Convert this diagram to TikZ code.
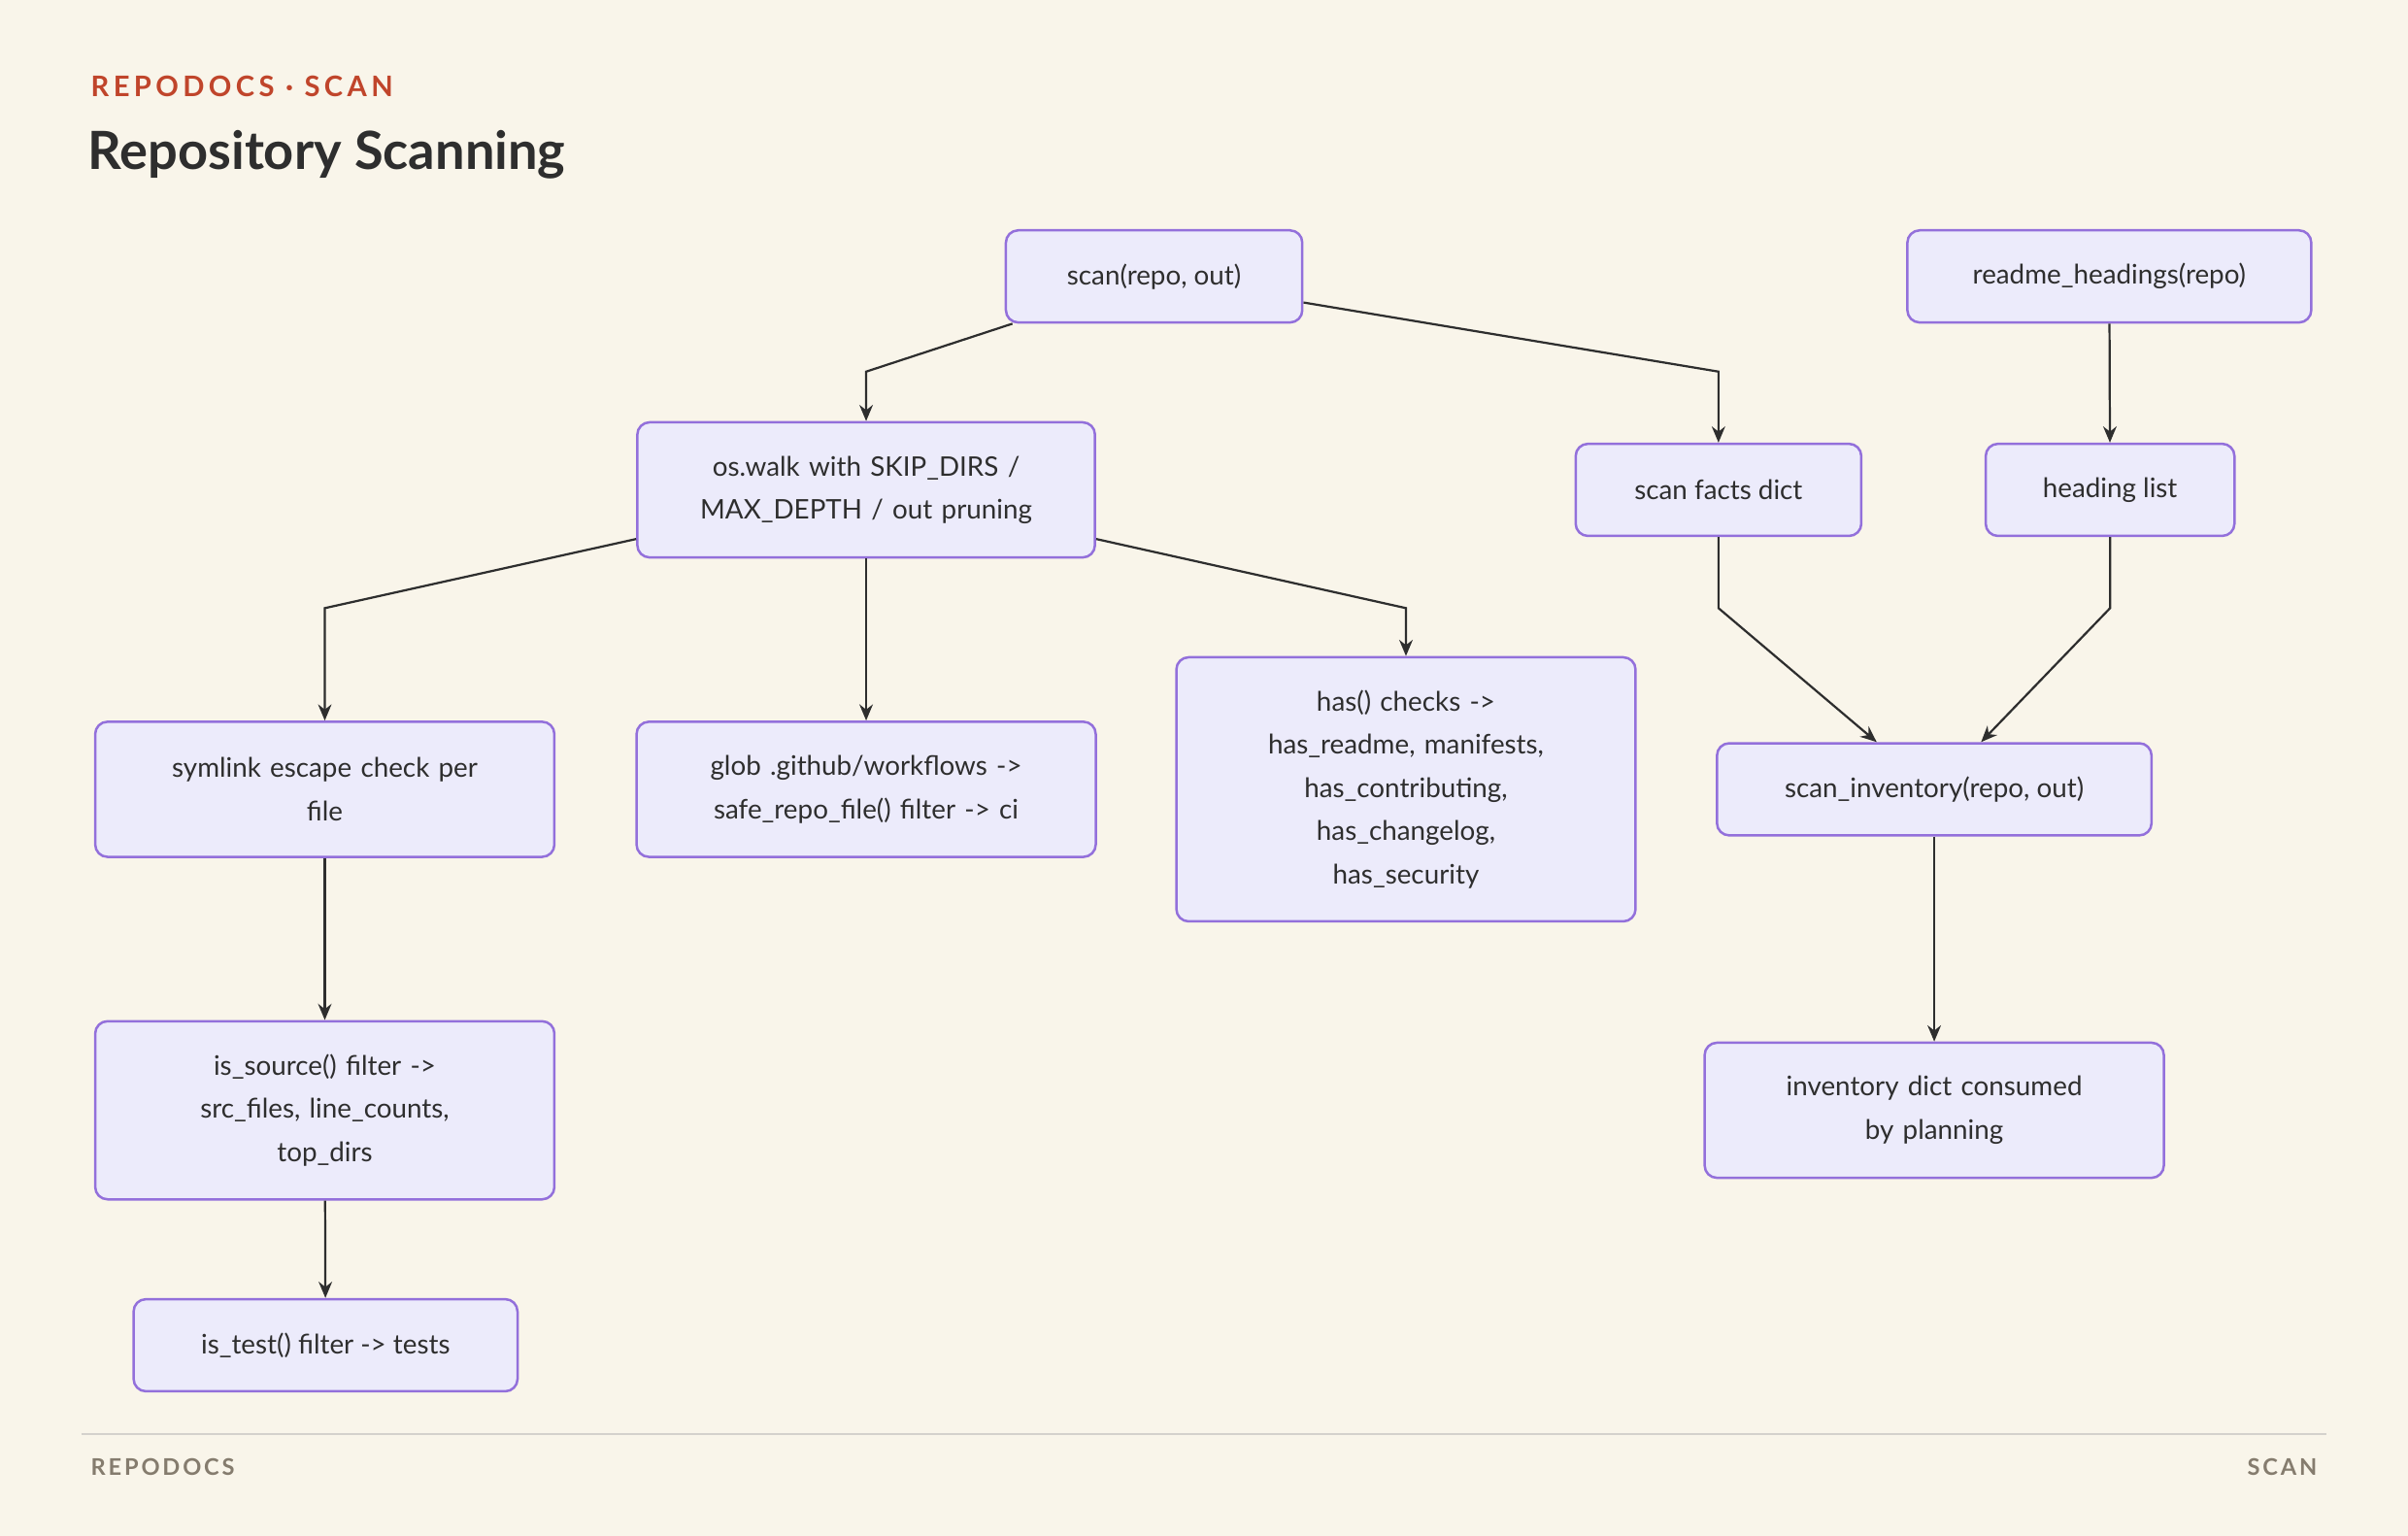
\documentclass[tikz,border=0pt]{standalone}
\usepackage{fontspec}
\setmainfont{Lato}
\usetikzlibrary{arrows.meta}
\definecolor{paper}{HTML}{F9F5EA}
\definecolor{boxfill}{HTML}{ECEBFB}
\definecolor{boxline}{HTML}{9370DB}
\definecolor{ink}{HTML}{2E2E2E}
\definecolor{accent}{HTML}{C0452B}
\definecolor{muted}{HTML}{857C6E}
\tikzset{
  box/.style={draw=boxline, fill=boxfill, line width=0.9pt, rounded corners=0.16cm,
    align=center, text=ink, inner sep=0pt,
    font=\fontsize{10}{16}\selectfont},
  arr/.style={-{Stealth[length=6pt,width=5pt]}, draw=ink, line width=0.8pt}
}
\begin{document}
\begin{tikzpicture}[x=0.02cm, y=-0.02cm]
  \fill[paper] (0,0) rectangle (1568,1000);
  \useasboundingbox (0,0) rectangle (1568,1000);

  \node[anchor=west, text=accent, font=\bfseries\fontsize{10.5}{12}\selectfont\addfontfeature{LetterSpace=15}] (kicker) at (53,56) {REPODOCS · SCAN};
  \node[anchor=west, text=ink, font=\bfseries\fontsize{19.5}{22}\selectfont] (title) at (51,101) {Repository Scanning};

  \node[box, minimum width=193*0.02cm, minimum height=60*0.02cm] (scan) at (751.5,180) {scan(repo, out)};
  \node[box, minimum width=263*0.02cm, minimum height=60*0.02cm] (readme) at (1373.5,180) {readme\_headings(repo)};
  \node[box, minimum width=298*0.02cm, minimum height=88*0.02cm, text width=270*0.02cm] (walk) at (564,319) {os.walk with SKIP\_DIRS /\\MAX\_DEPTH / out pruning};
  \node[box, minimum width=186*0.02cm, minimum height=60*0.02cm] (facts) at (1119,319) {scan facts dict};
  \node[box, minimum width=162*0.02cm, minimum height=60*0.02cm] (heading) at (1374,319) {heading list};
  \node[box, minimum width=299*0.02cm, minimum height=88*0.02cm, text width=270*0.02cm] (symlink) at (211.5,514) {symlink escape check per\\file};
  \node[box, minimum width=299*0.02cm, minimum height=88*0.02cm, text width=270*0.02cm] (glob) at (564,514) {glob .github/workflows ->\\safe\_repo\_file() filter -> ci};
  \node[box, minimum width=299*0.02cm, minimum height=172*0.02cm, text width=270*0.02cm] (has) at (915.5,514) {has() checks ->\\has\_readme, manifests,\\has\_contributing,\\has\_changelog,\\has\_security};
  \node[box, minimum width=283*0.02cm, minimum height=60*0.02cm] (inv) at (1259.5,514) {scan\_inventory(repo, out)};
  \node[box, minimum width=299*0.02cm, minimum height=116*0.02cm, text width=270*0.02cm] (source) at (211.5,723) {is\_source() filter ->\\src\_files, line\_counts,\\top\_dirs};
  \node[box, minimum width=299*0.02cm, minimum height=88*0.02cm, text width=270*0.02cm] (invdict) at (1259.5,723) {inventory dict consumed\\by planning};
  \node[box, minimum width=250*0.02cm, minimum height=60*0.02cm] (test) at (212,876) {is\_test() filter -> tests};

  \draw[arr] ([xshift=0.1cm]scan.south west) -- (walk.north |- 0,242) -- (walk.north);
  \draw[arr] ([yshift=-0.34cm]scan.east) -- (facts.north |- 0,242) -- (facts.north);
  \draw[arr] (readme) -- (heading);
  \draw[arr] ([yshift=-0.64cm]walk.west) -- (symlink.north |- 0,396) -- (symlink.north);
  \draw[arr] (walk) -- (glob);
  \draw[arr] ([yshift=-0.64cm]walk.east) -- (has.north |- 0,396) -- (has.north);
  \draw[arr] (facts.south) -- (facts.south |- 0,396) -- ([xshift=-0.75cm]inv.north);
  \draw[arr] (heading.south) -- (heading.south |- 0,396) -- ([xshift=0.61cm]inv.north);
  \draw[arr] (symlink) -- (source);
  \draw[arr] (source) -- (test);
  \draw[arr] (inv) -- (invdict);

  \draw[draw=muted!35, line width=0.6pt] (53,934) -- (1515,934);
  \node[anchor=west, text=muted, font=\bfseries\fontsize{8.5}{10}\selectfont\addfontfeature{LetterSpace=12}] (footl) at (53,955) {REPODOCS};
  \node[anchor=east, text=muted, font=\bfseries\fontsize{8.5}{10}\selectfont\addfontfeature{LetterSpace=12}] (footr) at (1515,955) {SCAN};
\end{tikzpicture}
\end{document}
